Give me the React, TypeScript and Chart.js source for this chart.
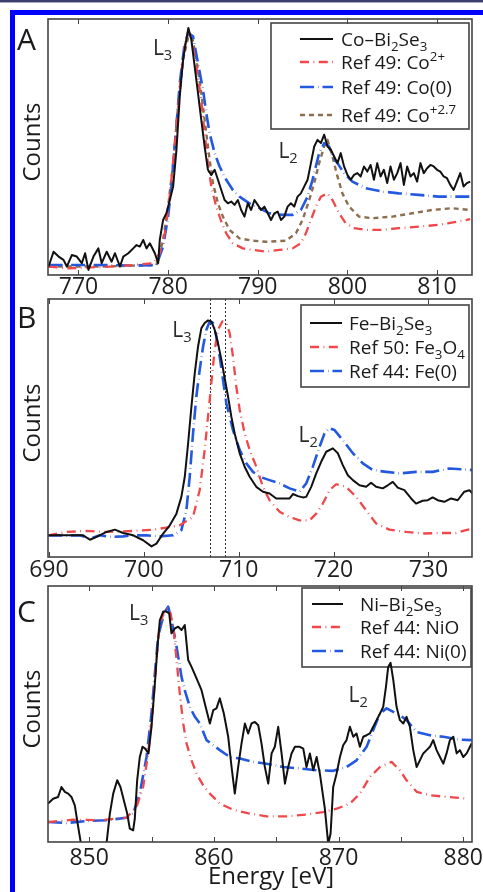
import React, { useEffect, useRef } from "react";
import { Chart, registerables } from "chart.js";

Chart.register(...registerables);

const FONT = '"Open Sans", "Noto Sans", "DejaVu Sans", sans-serif';
const INK = "#1a1a1a";
const FRAME = "#444444";
const PAGE_W = 483;
const PLOT_LEFT = 48;
const PLOT_RIGHT = 472;

const C_SAMPLE = "#111111";
const C_RED = "#f0484a";
const C_BLUE = "#2358e0";
const C_BROWN = "#8c6e50";

const DASH_SOLID: number[] = [];
const DASH_RED = [9, 4.5, 0.8, 4.5];
const DASH_BLUE = [14, 4, 0.5, 4];
const DASH_BROWN = [5, 4];

// ---------- Panel A: Co L2,3 edge ----------
const CO_TICKS = [770, 780, 790, 800, 810];
const CO_TICK_LABELS = [770, 780, 790, 800, 810];

const CO_SAMPLE_E = [
  766.67, 767.22, 767.78, 768.33, 768.7, 769.26, 769.81, 770.37, 770.74, 771.11,
  771.67, 772.22, 772.59, 773.15, 773.7, 774.07, 774.63, 775.0, 775.56, 776.11,
  776.48, 776.85, 777.22, 777.59, 777.96, 778.52, 778.89, 779.07, 779.44, 779.81,
  780.19, 780.56, 780.93, 781.3, 781.67, 781.96, 782.26, 782.59, 782.96, 783.33,
  783.7, 784.07, 784.44, 784.81, 785.19, 785.56, 785.93, 786.3, 786.67, 787.04,
  787.41, 787.78, 788.15, 788.52, 788.89, 789.26, 789.63, 790.0, 790.37, 790.74,
  791.11, 791.48, 791.85, 792.22, 792.59, 792.96, 793.33, 793.7, 794.07, 794.44,
  794.81, 795.19, 795.56, 795.93, 796.3, 796.67, 797.04, 797.41, 797.78, 798.15,
  798.52, 798.89, 799.26, 799.63, 800.0, 800.37, 800.74, 801.11, 801.48, 801.85,
  802.22, 802.59, 802.96, 803.33, 803.7, 804.07, 804.44, 804.81, 805.19, 805.56,
  805.93, 806.3, 806.67, 807.04, 807.41, 807.78, 808.15, 808.52, 808.89, 809.26,
  809.63, 810.0, 810.37, 810.74, 811.11, 811.48, 811.85, 812.22, 812.59, 812.96,
  813.33, 813.7,
];
const CO_SAMPLE_I = [
  3.3, 9.1, 7.2, 5.9, 3.3, 7.8, 7.2, 4.6, 8.5, 2.0,
  7.2, 10.4, 4.6, 9.1, 5.2, 8.5, 3.3, 7.2, 8.5, 10.4,
  11.7, 11.1, 13.7, 10.4, 12.4, 8.5, 4.6, 13.7, 21.5, 24.1,
  29.3, 34.6, 48.9, 69.8, 84.1, 90.6, 96.5, 91.9, 81.5, 71.1,
  60.6, 50.2, 41.1, 39.1, 41.1, 37.2, 33.2, 29.3, 28.0, 28.7,
  27.4, 29.3, 25.4, 22.8, 28.0, 25.4, 29.3, 27.4, 25.4, 26.7,
  24.1, 21.5, 24.1, 24.8, 21.5, 22.8, 26.7, 28.0, 26.7, 30.6,
  31.9, 34.6, 37.2, 43.7, 50.2, 52.8, 51.5, 54.8, 50.2, 48.9,
  46.3, 43.7, 47.6, 42.4, 39.1, 37.2, 39.1, 39.8, 38.5, 42.4,
  40.4, 43.0, 37.2, 43.7, 38.5, 41.1, 35.9, 42.4, 37.2, 39.8,
  43.7, 35.2, 42.4, 38.5, 39.8, 36.5, 43.7, 39.8, 41.7, 43.0,
  42.4, 41.1, 40.4, 38.5, 37.8, 35.2, 33.2, 36.5, 39.8, 34.6,
  35.9, 36.5,
];

const CO2_E = [
  766.67, 768.7, 770.93, 773.52, 776.11, 778.33, 779.07, 779.63, 780.0, 780.37,
  780.93, 781.48, 781.96, 782.26, 782.59, 783.15, 783.7, 784.07, 784.44, 784.81,
  785.37, 785.93, 786.48, 787.22, 788.33, 789.44, 790.93, 792.41, 793.89, 794.81,
  795.37, 795.93, 796.48, 797.04, 797.78, 798.33, 799.07, 799.81, 800.74, 802.04,
  803.89, 805.74, 807.96, 810.19, 812.41, 813.7,
];
const CO2_I = [
  3.3, 2.6, 2.9, 3.3, 3.9, 4.6, 8.5, 16.3, 25.4, 37.2,
  58.0, 78.9, 91.9, 95.2, 92.6, 81.5, 68.4, 55.4, 43.7, 34.6,
  26.7, 20.9, 16.3, 12.4, 10.4, 9.8, 9.1, 9.8, 10.4, 12.4,
  16.3, 21.5, 26.7, 30.6, 31.9, 29.3, 24.1, 20.2, 18.3, 17.6,
  17.6, 18.3, 18.9, 19.6, 20.9, 21.8,
];

const CO0_E = [
  766.67, 772.41, 776.11, 778.7, 779.44, 780.0, 780.37, 780.74, 781.3, 781.85,
  782.26, 782.78, 783.33, 783.89, 784.26, 784.63, 785.19, 785.74, 786.48, 787.22,
  787.96, 789.07, 790.19, 791.3, 792.78, 793.89, 794.81, 795.56, 796.11, 796.48,
  796.85, 797.41, 797.96, 798.33, 798.89, 799.63, 800.56, 802.04, 803.89, 805.74,
  807.96, 810.19, 813.7,
];
const CO0_I = [
  3.9, 3.9, 3.7, 3.9, 11.1, 22.8, 34.6, 50.2, 75.0, 90.6,
  94.5, 93.2, 82.8, 72.4, 63.2, 55.4, 47.6, 42.4, 37.2, 33.2,
  30.6, 28.0, 26.1, 24.1, 23.5, 23.5, 25.4, 30.6, 37.2, 42.4,
  47.6, 51.5, 50.2, 46.3, 43.7, 39.8, 36.5, 33.9, 32.6, 31.9,
  31.3, 30.6, 30.6,
];

const CO27_E = [
  766.67, 772.41, 778.7, 779.44, 780.0, 780.56, 781.11, 781.67, 782.26, 782.7,
  783.15, 783.7, 784.26, 784.63, 785.0, 785.56, 786.11, 786.85, 787.96, 789.44,
  790.93, 793.15, 794.26, 795.0, 795.74, 796.3, 796.85, 797.41, 797.78, 798.33,
  798.89, 799.44, 800.19, 801.3, 802.78, 805.0, 807.22, 809.44, 811.67, 813.7,
];
const CO27_I = [
  3.3, 3.3, 3.9, 13.7, 26.7, 43.7, 65.8, 84.1, 93.2, 92.6,
  84.1, 71.1, 55.4, 45.0, 35.9, 28.0, 22.8, 17.6, 14.3, 13.4,
  13.0, 13.4, 16.3, 21.5, 29.3, 35.9, 43.7, 50.2, 52.8, 46.3,
  38.5, 31.9, 26.7, 22.8, 22.2, 22.8, 24.1, 25.4, 26.1, 25.4,
];

// ---------- Panel B: Fe L2,3 edge ----------
const FE_TICKS = [690, 700, 710, 720, 730];
const FE_TICK_LABELS = [690, 700, 710, 720, 730];
const FE_PEAK_MARKERS = [707.0, 708.6];

const FE_SAMPLE_E = [
  689.93, 691.86, 693.61, 694.32, 695.02, 696.07, 696.95, 697.82, 698.88, 699.93,
  700.81, 701.33, 702.04, 702.74, 703.44, 703.96, 704.32, 704.67, 705.02, 705.37,
  705.72, 706.07, 706.42, 706.77, 707.12, 707.47, 707.82, 708.18, 708.53, 708.88,
  709.23, 709.58, 710.11, 710.63, 711.16, 711.86, 712.56, 713.26, 713.96, 714.67,
  715.37, 715.72, 716.25, 716.77, 717.12, 717.65, 718.18, 718.7, 719.23, 719.93,
  720.46, 720.98, 721.51, 722.04, 722.74, 723.44, 723.96, 724.49, 725.19, 725.72,
  726.25, 726.77, 727.47, 728.18, 728.7, 729.4, 729.93, 730.46, 730.98, 731.68,
  732.39, 733.09, 733.79, 734.32, 734.67,
];
const FE_SAMPLE_I = [
  8.4, 8.4, 8.4, 6.7, 7.8, 9.7, 10.6, 9.3, 8.4, 6.5,
  4.1, 5.2, 9.1, 12.3, 16.8, 23.3, 31.1, 44.0, 58.3, 71.2,
  81.6, 88.7, 90.7, 91.7, 91.3, 88.1, 82.9, 76.4, 69.3, 62.2,
  54.4, 47.9, 40.2, 35.0, 31.1, 27.2, 25.3, 24.6, 22.7, 22.7,
  22.7, 24.4, 23.6, 23.1, 23.3, 27.2, 32.4, 36.9, 40.8, 42.1,
  40.2, 35.6, 31.7, 29.8, 27.8, 27.2, 28.8, 27.2, 26.6, 27.8,
  29.1, 26.9, 25.9, 22.7, 20.7, 21.8, 22.0, 23.1, 22.0, 21.4,
  22.7, 22.0, 25.3, 25.9, 24.6,
];

const FE3O4_E = [
  689.93, 691.86, 693.96, 696.07, 698.88, 700.98, 702.39, 703.79, 705.19, 705.89,
  706.42, 706.77, 707.12, 707.47, 707.82, 708.28, 708.7, 709.05, 709.4, 709.75,
  710.11, 710.63, 711.16, 711.86, 712.56, 713.26, 714.32, 715.37, 716.42, 717.47,
  718.18, 718.88, 719.58, 720.28, 721.33, 722.39, 723.44, 724.49, 725.89, 727.65,
  729.4, 731.16, 732.91, 733.96, 734.67,
];
const FE3O4_I = [
  8.4, 9.7, 10.1, 9.7, 10.1, 10.6, 11.4, 12.3, 15.5, 25.9,
  41.5, 54.4, 67.4, 80.3, 88.1, 91.3, 90.7, 86.8, 77.7, 66.1,
  57.0, 47.9, 41.5, 35.0, 27.2, 22.0, 17.5, 15.5, 14.2, 14.2,
  16.8, 20.7, 25.9, 28.2, 27.2, 23.3, 18.1, 13.0, 10.6, 9.7,
  9.1, 9.3, 9.3, 10.4, 11.0,
];

const FE0_E = [
  689.93, 693.26, 694.32, 695.37, 696.42, 697.82, 698.88, 700.28, 701.68, 703.09,
  703.96, 704.49, 704.84, 705.19, 705.54, 705.89, 706.25, 706.6, 706.95, 707.3,
  707.65, 708.0, 708.35, 708.7, 709.4, 710.11, 710.81, 711.51, 712.21, 713.26,
  714.32, 715.37, 716.42, 717.12, 717.82, 718.53, 719.05, 719.58, 720.11, 720.98,
  722.04, 723.09, 724.14, 725.54, 726.95, 728.7, 730.46, 732.21, 734.67,
];
const FE0_I = [
  8.4, 8.4, 7.1, 8.4, 7.8, 8.0, 8.4, 8.4, 8.0, 8.4,
  10.4, 18.1, 31.1, 47.9, 62.2, 72.5, 81.6, 88.1, 91.3, 90.7,
  85.5, 77.7, 68.7, 59.6, 49.2, 41.5, 36.3, 33.0, 31.1, 29.8,
  28.5, 26.6, 25.3, 28.5, 35.0, 42.7, 47.9, 49.9, 49.2, 45.3,
  40.2, 36.3, 33.7, 33.0, 32.4, 33.0, 33.0, 34.3, 33.7,
];

// ---------- Panel C: Ni L2,3 edge ----------
const NI_TICKS = [850, 855, 860, 865, 870, 875, 880];
const NI_TICK_LABELS = [850, 860, 870, 880];

const NI_SAMPLE_E = [
  846.71, 847.11, 847.51, 847.78, 848.05, 848.32, 848.58, 848.85, 849.12, 849.39,
  850.05, 850.86, 851.39, 851.66, 851.93, 852.25, 852.51, 852.78, 853.05, 853.26,
  853.53, 853.66, 853.85, 854.06, 854.28, 854.49, 854.76, 855.0, 855.27, 855.48,
  855.67, 855.94, 856.2, 856.42, 856.6, 856.87, 857.14, 857.41, 857.67, 857.94,
  858.21, 858.61, 859.01, 859.41, 859.68, 859.95, 860.21, 860.48, 860.8, 861.15,
  861.42, 861.68, 861.95, 862.22, 862.49, 862.75, 863.02, 863.29, 863.56, 863.82,
  864.09, 864.36, 864.63, 864.89, 865.16, 865.43, 865.7, 865.96, 866.23, 866.5,
  866.9, 867.17, 867.43, 867.7, 867.97, 868.24, 868.5, 868.9, 869.17, 869.36,
  869.57, 869.84, 870.11, 870.37, 870.64, 870.91, 871.18, 871.44, 871.71, 871.98,
  872.25, 872.51, 872.78, 873.05, 873.32, 873.58, 873.8, 873.98, 874.17, 874.39,
  874.65, 874.92, 875.19, 875.45, 875.72, 875.99, 876.26, 876.52, 876.79, 877.06,
  877.33, 877.59, 877.86, 878.13, 878.4, 878.66, 878.93, 879.2, 879.47, 879.73,
  880.0, 880.27, 880.67,
];
const NI_SAMPLE_I = [
  15.0, 16.9, 17.6, 21.5, 19.6, 18.9, 17.6, 14.3, 5.9, -2.0,
  -11.1, -11.1, -0.7, 11.1, 18.9, 24.1, 21.5, 16.3, 11.1, 5.2,
  4.6, 9.1, 24.1, 33.2, 37.2, 36.5, 34.6, 45.0, 61.9, 76.3,
  86.7, 90.0, 90.0, 89.3, 81.5, 83.4, 84.1, 82.8, 84.7, 71.1,
  68.4, 63.9, 59.3, 51.5, 46.3, 51.5, 52.2, 56.1, 50.2, 41.1,
  29.3, 18.9, 29.3, 38.5, 46.3, 42.4, 46.3, 46.9, 45.6, 38.5,
  29.3, 22.8, 34.6, 37.2, 45.0, 34.6, 22.8, 29.3, 34.6, 37.2,
  37.2, 36.5, 29.3, 34.6, 28.0, 33.2, 26.7, 13.0, -0.7, 3.3,
  21.5, 26.7, 33.2, 37.8, 39.8, 45.0, 41.1, 42.4, 37.2, 41.1,
  41.7, 42.4, 45.0, 47.6, 50.2, 52.8, 60.6, 68.4, 70.0, 63.2,
  52.8, 47.6, 46.3, 48.9, 45.0, 35.9, 29.3, 31.9, 34.6, 35.9,
  37.2, 39.8, 35.9, 33.2, 30.6, 34.6, 39.8, 41.1, 34.6, 35.9,
  33.2, 34.6, 38.5,
];

const NIO_E = [
  846.71, 848.72, 850.86, 852.99, 853.8, 854.33, 854.73, 855.08, 855.35, 855.61,
  855.94, 856.2, 856.47, 856.74, 857.01, 857.27, 857.54, 857.81, 858.21, 858.61,
  859.14, 859.68, 860.48, 861.55, 862.89, 864.22, 865.83, 867.43, 868.77, 869.84,
  870.91, 871.71, 872.51, 873.32, 874.25, 874.92, 875.45, 876.26, 877.33, 878.66,
  880.13,
];
const NIO_I = [
  7.8, 8.7, 8.5, 9.5, 13.7, 21.5, 34.6, 50.2, 68.4, 82.8,
  89.3, 91.3, 90.6, 84.1, 71.1, 58.0, 46.3, 38.5, 31.9, 26.7,
  22.2, 18.9, 15.0, 12.6, 11.1, 10.0, 10.0, 10.7, 11.7, 13.0,
  15.0, 18.9, 25.4, 29.3, 31.3, 28.0, 24.1, 19.6, 18.3, 17.6,
  17.0,
];

const NI0_E = [
  846.71, 848.18, 849.79, 851.39, 852.99, 853.53, 854.06, 854.6, 855.0, 855.27,
  855.53, 855.8, 856.07, 856.34, 856.6, 856.87, 857.14, 857.41, 857.67, 858.07,
  858.48, 858.88, 859.41, 859.95, 860.48, 861.28, 862.09, 863.16, 864.22, 865.56,
  866.9, 868.24, 869.57, 870.64, 871.44, 872.25, 872.78, 873.32, 873.85, 874.39,
  874.92, 875.45, 876.26, 877.33, 878.4, 879.73, 880.67,
];
const NI0_I = [
  7.8, 7.4, 8.2, 8.5, 9.5, 11.1, 18.9, 33.2, 50.2, 65.8,
  80.2, 85.5, 90.0, 91.9, 86.7, 80.2, 72.4, 64.4, 59.2, 52.8,
  48.9, 46.3, 39.8, 37.8, 35.9, 33.2, 32.6, 31.3, 30.6, 29.3,
  28.7, 28.0, 27.8, 29.3, 31.9, 37.2, 43.7, 50.2, 52.2, 50.8,
  49.5, 47.6, 43.0, 41.7, 41.1, 40.0, 39.8,
];

// ---------- drawing helpers ----------
// Rich text segment: [text, 0 = normal | 1 = subscript | 2 = superscript]
type Seg = [string, number];

function drawRich(ctx: CanvasRenderingContext2D, segs: Seg[], x: number, baseline: number, size: number, color: string) {
  ctx.save();
  ctx.fillStyle = color;
  ctx.textAlign = "left";
  ctx.textBaseline = "alphabetic";
  let cx = x;
  for (const [t, mode] of segs) {
    const s = mode === 0 ? size : size * 0.7;
    ctx.font = `${s}px ${FONT}`;
    const dy = mode === 1 ? size * 0.25 : mode === 2 ? -size * 0.4 : 0;
    ctx.fillText(t, cx, baseline + dy);
    cx += ctx.measureText(t).width;
  }
  ctx.restore();
}

interface Series {
  name: string;
  label: Seg[];
  e: number[];
  v: number[];
  color: string;
  width: number;
  dash: number[];
}

interface EdgeMark {
  e: number;
  v: number;
  sub: string;
}

interface LegendBox {
  x: number;
  y: number;
  w: number;
  h: number;
  rows: number[];
  lineX0: number;
  lineX1: number;
  textX: number;
}

interface PanelSpec {
  top: number;
  height: number;
  plotTop: number;
  plotBottom: number;
  xMin: number;
  xMax: number;
  ticks: number[];
  tickLabels: number[];
  tickPad: number;
  letter: string;
  letterBaseline: number;
  edges: EdgeMark[];
  legend: LegendBox;
  series: Series[];
  markers?: number[];
  xTitle?: string;
}

const LEGEND_SIZE = 19;

function decorations(spec: PanelSpec) {
  return {
    id: "panelDecor",
    beforeDatasetsDraw(chart: Chart) {
      const { ctx, chartArea: a } = chart;
      const x = chart.scales.x;
      const oy = -spec.top;

      if (spec.markers) {
        ctx.save();
        ctx.strokeStyle = "#2a2a2a";
        ctx.lineWidth = 1;
        ctx.setLineDash([2, 2]);
        for (const m of spec.markers) {
          const px = Math.round(x.getPixelForValue(m)) + 0.5;
          ctx.beginPath();
          ctx.moveTo(px, a.top);
          ctx.lineTo(px, a.bottom);
          ctx.stroke();
        }
        ctx.restore();
      }

      const L = spec.legend;
      ctx.save();
      ctx.fillStyle = "#ffffff";
      ctx.fillRect(L.x, L.y + oy, L.w, L.h);
      ctx.strokeStyle = FRAME;
      ctx.lineWidth = 1.6;
      ctx.strokeRect(L.x, L.y + oy, L.w, L.h);
      spec.series.forEach((s, i) => {
        const ry = L.rows[i] + oy;
        ctx.strokeStyle = s.color;
        ctx.lineWidth = s.width;
        ctx.setLineDash(s.dash);
        ctx.beginPath();
        ctx.moveTo(L.lineX0, ry);
        ctx.lineTo(L.lineX1, ry);
        ctx.stroke();
        ctx.setLineDash([]);
        drawRich(ctx, s.label, L.textX, ry + LEGEND_SIZE * 0.36, LEGEND_SIZE, INK);
      });
      ctx.restore();
    },
    afterDatasetsDraw(chart: Chart) {
      const { ctx, chartArea: a } = chart;
      const x = chart.scales.x;
      const y = chart.scales.y;
      const oy = -spec.top;

      ctx.save();
      // axes frame
      ctx.strokeStyle = FRAME;
      ctx.lineWidth = 1.6;
      ctx.strokeRect(a.left, a.top, a.right - a.left, a.bottom - a.top);
      // inward tick marks on the top and bottom edges
      ctx.lineWidth = 1;
      for (const t of x.ticks) {
        const px = Math.round(x.getPixelForValue(t.value)) + 0.5;
        ctx.beginPath();
        ctx.moveTo(px, a.bottom);
        ctx.lineTo(px, a.bottom - 5);
        ctx.moveTo(px, a.top);
        ctx.lineTo(px, a.top + 5);
        ctx.stroke();
      }

      // panel letter
      ctx.fillStyle = INK;
      ctx.font = `30px ${FONT}`;
      ctx.textAlign = "left";
      ctx.textBaseline = "alphabetic";
      ctx.fillText(spec.letter, 17, spec.letterBaseline + oy);

      // y-axis caption
      ctx.save();
      ctx.translate(40, (a.top + a.bottom) / 2 - 5);
      ctx.rotate(-Math.PI / 2);
      ctx.font = `24px ${FONT}`;
      ctx.textAlign = "center";
      ctx.fillText("Counts", 0, 0);
      ctx.restore();

      // edge labels L3 / L2
      for (const m of spec.edges) {
        drawRich(ctx, [["L", 0], [m.sub, 1]], x.getPixelForValue(m.e), y.getPixelForValue(m.v), 21, "#2a2a2a");
      }

      if (spec.xTitle) {
        ctx.font = `24px ${FONT}`;
        ctx.textAlign = "center";
        ctx.fillStyle = INK;
        ctx.fillText(spec.xTitle, 271, 884 + oy);
      }
      ctx.restore();
    },
  };
}

const PANELS: PanelSpec[] = [
  {
    top: 0,
    height: 297,
    plotTop: 19,
    plotBottom: 275,
    xMin: 766.6,
    xMax: 813.9,
    ticks: CO_TICKS,
    tickLabels: CO_TICK_LABELS,
    tickPad: 1,
    letter: "A",
    letterBaseline: 50,
    edges: [
      { e: 778.3, v: 85.9, sub: "3" },
      { e: 792.3, v: 45.7, sub: "2" },
    ],
    legend: { x: 271, y: 23, w: 198, h: 106, rows: [39, 62, 87, 115], lineX0: 300, lineX1: 333, textX: 341 },
    series: [
      { name: "Co–Bi2Se3", label: [["Co–Bi", 0], ["2", 1], ["Se", 0], ["3", 1]], e: CO_SAMPLE_E, v: CO_SAMPLE_I, color: C_SAMPLE, width: 2, dash: DASH_SOLID },
      { name: "Ref 49: Co2+", label: [["Ref 49: Co", 0], ["2+", 2]], e: CO2_E, v: CO2_I, color: C_RED, width: 2.3, dash: DASH_RED },
      { name: "Ref 49: Co(0)", label: [["Ref 49: Co(0)", 0]], e: CO0_E, v: CO0_I, color: C_BLUE, width: 2.6, dash: DASH_BLUE },
      { name: "Ref 49: Co+2.7", label: [["Ref 49: Co", 0], ["+2.7", 2]], e: CO27_E, v: CO27_I, color: C_BROWN, width: 2.4, dash: DASH_BROWN },
    ],
  },
  {
    top: 297,
    height: 285,
    plotTop: 299,
    plotBottom: 557,
    xMin: 689.9,
    xMax: 734.6,
    ticks: FE_TICKS,
    tickLabels: FE_TICK_LABELS,
    tickPad: 2,
    letter: "B",
    letterBaseline: 328,
    edges: [
      { e: 703.0, v: 85.3, sub: "3" },
      { e: 716.3, v: 44.6, sub: "2" },
    ],
    markers: FE_PEAK_MARKERS,
    legend: { x: 301, y: 305, w: 168, h: 82, rows: [323, 347, 371], lineX0: 310, lineX1: 342, textX: 349 },
    series: [
      { name: "Fe–Bi2Se3", label: [["Fe–Bi", 0], ["2", 1], ["Se", 0], ["3", 1]], e: FE_SAMPLE_E, v: FE_SAMPLE_I, color: C_SAMPLE, width: 2, dash: DASH_SOLID },
      { name: "Ref 50: Fe3O4", label: [["Ref 50: Fe", 0], ["3", 1], ["O", 0], ["4", 1]], e: FE3O4_E, v: FE3O4_I, color: C_RED, width: 2.3, dash: DASH_RED },
      { name: "Ref 44: Fe(0)", label: [["Ref 44: Fe(0)", 0]], e: FE0_E, v: FE0_I, color: C_BLUE, width: 2.6, dash: DASH_BLUE },
    ],
  },
  {
    top: 582,
    height: 310,
    plotTop: 586,
    plotBottom: 842,
    xMin: 846.7,
    xMax: 880.7,
    ticks: NI_TICKS,
    tickLabels: NI_TICK_LABELS,
    tickPad: 5,
    letter: "C",
    letterBaseline: 622,
    edges: [
      { e: 853.2, v: 86.7, sub: "3" },
      { e: 870.8, v: 54.7, sub: "2" },
    ],
    legend: { x: 302, y: 588, w: 169, h: 79, rows: [604, 627, 651], lineX0: 312, lineX1: 343, textX: 360 },
    xTitle: "Energy [eV]",
    series: [
      { name: "Ni–Bi2Se3", label: [["Ni–Bi", 0], ["2", 1], ["Se", 0], ["3", 1]], e: NI_SAMPLE_E, v: NI_SAMPLE_I, color: C_SAMPLE, width: 2, dash: DASH_SOLID },
      { name: "Ref 44: NiO", label: [["Ref 44: NiO", 0]], e: NIO_E, v: NIO_I, color: C_RED, width: 2.3, dash: DASH_RED },
      { name: "Ref 44: Ni(0)", label: [["Ref 44: Ni(0)", 0]], e: NI0_E, v: NI0_I, color: C_BLUE, width: 2.6, dash: DASH_BLUE },
    ],
  },
];

function Panel({ spec }: { spec: PanelSpec }) {
  const ref = useRef<HTMLCanvasElement | null>(null);

  useEffect(() => {
    if (!ref.current) return;
    const chart = new Chart(ref.current, {
      type: "line",
      data: {
        datasets: spec.series.map((s) => ({
          label: s.name,
          data: s.e.map((xv, i) => ({ x: xv, y: s.v[i] })),
          borderColor: s.color,
          borderWidth: s.width,
          borderDash: s.dash,
          borderJoinStyle: "round" as const,
          pointRadius: 0,
          tension: 0,
          fill: false,
        })),
      },
      options: {
        responsive: false,
        animation: false,
        devicePixelRatio: 1,
        events: [],
        layout: {
          padding: { left: PLOT_LEFT, right: PAGE_W - PLOT_RIGHT, top: spec.plotTop - spec.top, bottom: 0 },
        },
        plugins: { legend: { display: false }, tooltip: { enabled: false } },
        scales: {
          x: {
            type: "linear",
            min: spec.xMin,
            max: spec.xMax,
            grid: { display: false, drawTicks: false, tickLength: 0 },
            border: { display: false },
            afterBuildTicks: (sc: any) => {
              sc.ticks = spec.ticks.map((v) => ({ value: v }));
            },
            afterFit: (sc: any) => {
              sc.height = spec.top + spec.height - spec.plotBottom;
              sc.paddingLeft = 0;
              sc.paddingRight = 0;
            },
            ticks: {
              autoSkip: false,
              maxRotation: 0,
              minRotation: 0,
              padding: spec.tickPad,
              color: "#1e1e1e",
              font: { family: FONT, size: 23, lineHeight: 1 },
              callback: (v: any) => (spec.tickLabels.includes(Number(v)) ? String(v) : ""),
            },
          },
          y: { display: false, min: 0, max: 100 },
        },
      },
      plugins: [decorations(spec)],
    });
    return () => chart.destroy();
  }, [spec]);

  return (
    <canvas
      ref={ref}
      width={PAGE_W}
      height={spec.height}
      style={{ position: "absolute", left: 0, top: spec.top, width: PAGE_W, height: spec.height }}
    />
  );
}

export default function App() {
  return (
    <div
      style={{
        position: "absolute",
        left: 0,
        top: 0,
        width: PAGE_W,
        height: 892,
        overflow: "hidden",
        background: "#ffffff",
      }}
    >
      <div style={{ position: "absolute", left: 0, top: 0, width: PAGE_W, height: 2, background: "#3c3f6c" }} />
      <div style={{ position: "absolute", left: 0, top: 2, width: PAGE_W, height: 1, background: "#a4a8c4" }} />
      <div style={{ position: "absolute", left: 10, top: 10, width: PAGE_W - 10, height: 5, background: "#0000ff" }} />
      <div style={{ position: "absolute", left: 10, top: 10, width: 5, height: 882, background: "#0000ff" }} />
      {PANELS.map((p) => (
        <Panel key={p.letter} spec={p} />
      ))}
    </div>
  );
}
